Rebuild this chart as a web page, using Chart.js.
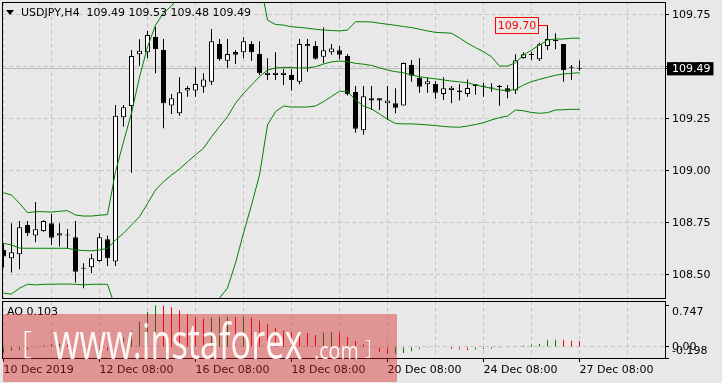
<!DOCTYPE html>
<html>
<head>
<meta charset="utf-8">
<script src="https://cdn.jsdelivr.net/npm/chart.js@4.4.1/dist/chart.umd.min.js"></script>
<style>
  html, body { margin: 0; padding: 0; background: #e8e8e8; }
  #wrap { position: relative; width: 722px; height: 383px; overflow: hidden; font-family: "DejaVu Sans", sans-serif; }
  canvas { position: absolute; left: 0; }
  #price { top: 0; }
  #ao { top: 300px; }
  .lbl { position: absolute; font-size: 11px; line-height: 13px; color: #000; white-space: pre; }
  #tri { position: absolute; left: 6px; top: 10px; width: 0; height: 0;
         border-left: 4.5px solid transparent; border-right: 4.5px solid transparent; border-top: 5px solid #000; }
  #wm { position: absolute; left: 3px; top: 314px; width: 394px; height: 68px; background: rgba(215, 30, 30, 0.42); }
  #wm span { position: absolute; color: rgba(255, 255, 255, 0.92); font-family: "Open Sans", sans-serif;
             font-weight: 400; line-height: 1; white-space: pre; transform-origin: left top; }
</style>
</head>
<body>
<div id="wrap">
  <canvas id="price" width="722" height="300"></canvas>
  <canvas id="ao" width="722" height="83"></canvas>
  <div id="tri"></div>
  <div id="hdr" class="lbl" style="left:21px; top:6px;"></div>
  <div id="aoLbl" class="lbl" style="left:7px; top:305px;"></div>
  <div id="wm">
    <span style="left:19px; top:12px; font-size:31px; font-weight:300;">[</span>
    <span style="left:50px; top:2px; font-size:49px; transform:scaleX(0.70);">www.instaforex</span>
    <span style="left:311px; top:24px; font-size:24px; transform:scaleX(0.82);">.com</span>
    <span style="left:362px; top:23px; font-size:21px; font-weight:300;">]</span>
  </div>
</div>
<script>
// USDJPY H4, one value per bar (bar 0 = 10 Dec 08:00)
const opens = [108.619,108.579,108.598,108.739,108.689,108.710,108.747,108.688,108.688,108.680,
  108.529,108.536,108.566,108.670,108.564,109.257,109.311,109.560,109.569,109.643,
  109.580,109.314,109.276,109.385,109.385,109.404,109.428,109.609,109.529,109.571,
  109.569,109.609,109.561,109.460,109.460,109.460,109.460,109.428,109.598,109.600,
  109.548,109.569,109.579,109.551,109.378,109.194,109.348,109.348,109.324,109.324,
  109.314,109.508,109.447,109.415,109.417,109.369,109.388,109.386,109.369,109.407,
  109.404,109.397,109.404,109.396,109.385,109.542,109.556,109.536,109.600,109.626,
  109.609,109.497,109.490];
const highs = [108.651,108.747,108.758,108.758,108.850,108.762,108.792,108.747,108.720,108.758,
  108.555,108.600,108.699,108.689,109.316,109.316,109.580,109.632,109.672,109.692,
  109.633,109.369,109.449,109.407,109.497,109.468,109.681,109.633,109.633,109.580,
  109.641,109.622,109.622,109.540,109.569,109.489,109.489,109.633,109.633,109.622,
  109.689,109.609,109.600,109.561,109.407,109.407,109.407,109.350,109.407,109.396,
  109.520,109.532,109.540,109.449,109.430,109.449,109.407,109.417,109.439,109.417,
  109.423,109.420,109.412,109.412,109.560,109.569,109.572,109.615,109.700,109.661,
  109.609,109.508,109.530];
const lows = [108.535,108.510,108.526,108.686,108.656,108.706,108.643,108.635,108.627,108.462,
  108.435,108.507,108.562,108.542,108.542,109.212,108.990,109.503,109.540,109.468,
  109.204,109.273,109.264,109.356,109.356,109.375,109.412,109.529,109.495,109.513,
  109.540,109.529,109.460,109.436,109.436,109.412,109.385,109.415,109.476,109.535,
  109.516,109.558,109.536,109.362,109.183,109.173,109.292,109.292,109.244,109.276,
  109.312,109.428,109.375,109.375,109.346,109.340,109.324,109.337,109.356,109.365,
  109.356,109.380,109.312,109.348,109.369,109.538,109.532,109.527,109.580,109.584,
  109.428,109.436,109.480];
const closes = [108.587,108.608,108.728,108.699,108.718,108.758,108.678,108.699,108.690,108.514,
  108.530,108.579,108.680,108.579,109.264,109.305,109.551,109.577,109.652,109.585,
  109.324,109.348,109.377,109.398,109.417,109.439,109.622,109.536,109.561,109.558,
  109.622,109.569,109.468,109.471,109.471,109.471,109.436,109.609,109.609,109.538,
  109.579,109.588,109.558,109.367,109.202,109.358,109.337,109.337,109.338,109.303,
  109.518,109.457,109.404,109.430,109.375,109.396,109.399,109.377,109.398,109.415,
  109.405,109.395,109.402,109.380,109.531,109.560,109.557,109.608,109.633,109.624,
  109.484,109.495,109.490];

// Bollinger bands
const bbUpper = [108.894,108.883,108.843,108.798,108.803,108.803,108.801,108.805,108.808,108.787,
  108.782,108.782,108.786,108.789,108.995,109.139,109.277,109.450,109.595,109.700,
  109.758,109.792,109.840,109.878,109.893,109.907,109.965,110.047,110.085,110.090,
  110.042,109.989,109.926,109.724,109.703,109.700,109.692,109.689,109.685,109.680,
  109.676,109.674,109.672,109.676,109.716,109.716,109.715,109.709,109.704,109.699,
  109.693,109.688,109.680,109.672,109.665,109.663,109.661,109.638,109.613,109.592,
  109.572,109.548,109.503,109.503,109.519,109.556,109.580,109.604,109.628,109.633,
  109.633,109.637,109.637];
const bbMiddle = [108.651,108.643,108.628,108.627,108.627,108.627,108.627,108.627,108.627,108.619,
  108.616,108.615,108.619,108.627,108.667,108.699,108.739,108.779,108.842,108.907,
  108.947,108.979,109.008,109.043,109.076,109.108,109.163,109.212,109.260,109.324,
  109.372,109.412,109.452,109.484,109.494,109.496,109.496,109.494,109.494,109.500,
  109.513,109.523,109.527,109.524,109.516,109.512,109.506,109.495,109.484,109.476,
  109.471,109.460,109.452,109.446,109.442,109.436,109.431,109.427,109.423,109.412,
  109.404,109.396,109.388,109.385,109.391,109.412,109.428,109.439,109.449,109.459,
  109.465,109.468,109.471];
const bbLower = [108.411,108.407,108.435,108.454,108.451,108.454,108.454,108.455,108.455,108.454,
  108.451,108.454,108.454,108.454,108.340,108.258,108.200,108.109,108.090,108.114,
  108.138,108.167,108.176,108.210,108.258,108.306,108.364,108.388,108.436,108.556,
  108.700,108.835,108.979,109.220,109.284,109.311,109.306,109.306,109.306,109.311,
  109.332,109.357,109.382,109.381,109.340,109.311,109.297,109.273,109.247,109.227,
  109.225,109.225,109.223,109.220,109.217,109.213,109.210,109.209,109.215,109.222,
  109.231,109.244,109.255,109.263,109.292,109.288,109.280,109.276,109.279,109.292,
  109.293,109.295,109.295];

// Awesome Oscillator
const ao = [-0.100,-0.070,-0.060,-0.040,-0.020,0.030,0.047,0.060,0.040,0.020,
  -0.005,-0.020,-0.040,-0.070,0.020,0.166,0.285,0.450,0.629,0.747,
  0.745,0.710,0.652,0.593,0.522,0.510,0.525,0.540,0.545,0.538,
  0.542,0.522,0.474,0.415,0.344,0.297,0.261,0.255,0.250,0.213,
  0.261,0.265,0.255,0.178,0.107,0.047,-0.020,-0.090,-0.125,-0.120,
  -0.107,-0.077,-0.036,-0.018,-0.005,-0.010,-0.036,-0.047,-0.059,-0.047,
  -0.036,-0.030,-0.018,-0.015,0.012,0.025,0.041,0.053,0.119,0.130,
  0.128,0.113,0.103];

// axes
const priceTicks = [109.75, 109.50, 109.25, 109.00, 108.75, 108.50];
const aoTicks = [0.747, 0, -0.198];
const dateLabels = ['10 Dec 2019', '12 Dec 08:00', '16 Dec 08:00', '18 Dec 08:00',
  '20 Dec 08:00', '24 Dec 08:00', '27 Dec 08:00'];
const barsPerLabel = 12;
const gridBars = [0, 6, 12, 18, 24, 30, 36, 42, 48, 54, 60, 66, 72, 78];

const xMin = -0.1875, xMax = 82.6875;
const priceMin = 108.388, priceMax = 109.811;
const aoMin = -0.198, aoMax = 0.824;

const FONT = 'DejaVu Sans';
const gridColor = '#c6c6c6';
const last = closes.length - 1;
const lastClose = closes[last];

Chart.defaults.font.family = FONT;
Chart.defaults.font.size = 11;
Chart.defaults.color = '#000';

// header texts
document.getElementById('hdr').textContent = 'USDJPY,H4  ' +
  [opens[last], highs[last], lows[last], closes[last]].map(v => v.toFixed(2)).join(' ');
document.getElementById('aoLbl').textContent = 'AO ' + ao[last].toFixed(3);

const idx = opens.map((_, i) => i);
const asPoints = arr => arr.map((v, i) => ({ x: i, y: v }));

// keep the plot area exactly where the layout padding puts it
function fixSize(prop, size) {
  return s => {
    s[prop] = size;
    s.paddingTop = 0; s.paddingBottom = 0; s.paddingLeft = 0; s.paddingRight = 0;
  };
}

// black frame round the plot area
const framePlugin = {
  id: 'frame',
  afterDraw(chart) {
    const { ctx, chartArea: a } = chart;
    ctx.save();
    ctx.strokeStyle = '#000';
    ctx.lineWidth = 1;
    ctx.strokeRect(Math.round(a.left) + 0.5, Math.round(a.top) + 0.5,
      Math.round(a.right - a.left), Math.round(a.bottom - a.top));
    ctx.restore();
  }
};

// red label on the highest high
const peakPlugin = {
  id: 'peak',
  afterDatasetsDraw(chart) {
    const i = highs.indexOf(Math.max(...highs));
    const x = Math.round(chart.scales.x.getPixelForValue(i));
    const y = Math.round(chart.scales.y.getPixelForValue(highs[i])) + 0.5;
    const ctx = chart.ctx;
    const text = highs[i].toFixed(2);
    ctx.save();
    ctx.font = '11px "' + FONT + '"';
    const w = Math.ceil(ctx.measureText(text).width) + 4;
    const right = x - 10;
    ctx.strokeStyle = '#ff0000';
    ctx.lineWidth = 1;
    ctx.beginPath();
    ctx.moveTo(right, y);
    ctx.lineTo(x, y);
    ctx.stroke();
    ctx.fillStyle = '#e8e8e8';
    ctx.fillRect(right - w, y - 8, w, 16);
    ctx.strokeRect(right - w + 0.5, y - 8, w, 16);
    ctx.fillStyle = '#ff0000';
    ctx.textAlign = 'center';
    ctx.textBaseline = 'middle';
    ctx.fillText(text, right - w / 2 + 0.5, y + 0.5);
    ctx.restore();
  }
};

const bandStyle = { type: 'line', borderColor: '#008000', borderWidth: 1, pointRadius: 0, order: 0 };

new Chart(document.getElementById('price'), {
  type: 'bar',
  data: {
    datasets: [
      { ...bandStyle, data: asPoints(bbUpper) },
      { ...bandStyle, data: asPoints(bbMiddle) },
      { ...bandStyle, data: asPoints(bbLower) },
      {
        // candle bodies
        data: idx.map(i => ({ x: i, y: [Math.min(opens[i], closes[i]), Math.max(opens[i], closes[i])] })),
        backgroundColor: idx.map(i => closes[i] >= opens[i] ? '#ffffff' : '#000000'),
        borderColor: '#000',
        borderWidth: 1,
        borderSkipped: false,
        barThickness: 5,
        minBarLength: 1,
        inflateAmount: 0,
        grouped: false,
        order: 1
      },
      {
        // wicks
        data: idx.map(i => ({ x: i, y: [lows[i], highs[i]] })),
        backgroundColor: '#000',
        borderWidth: 0,
        barThickness: 1,
        inflateAmount: 0,
        grouped: false,
        order: 2
      }
    ]
  },
  options: {
    responsive: false,
    animation: false,
    devicePixelRatio: 1,
    layout: { padding: { left: 2, top: 2, right: 0, bottom: 0 } },
    plugins: { legend: { display: false }, tooltip: { enabled: false } },
    scales: {
      x: {
        type: 'linear',
        offset: false,
        min: xMin,
        max: xMax,
        afterBuildTicks: s => { s.ticks = gridBars.map(v => ({ value: v })); },
        afterFit: fixSize('height', 2),
        ticks: { display: false, autoSkip: false },
        grid: { color: gridColor, drawTicks: false, offset: false },
        border: { display: false, dash: [4, 3] }
      },
      y: {
        position: 'right',
        min: priceMin,
        max: priceMax,
        afterBuildTicks: s => { s.ticks = priceTicks.concat([lastClose]).map(v => ({ value: v })); },
        afterFit: fixSize('width', 57),
        ticks: {
          autoSkip: false,
          padding: 3,
          callback: v => v.toFixed(2),
          color: ctx => ctx.tick.value === lastClose ? '#ffffff' : '#000000',
          showLabelBackdrop: ctx => ctx.tick.value === lastClose,
          backdropColor: '#000',
          backdropPadding: { left: 5, right: 3, top: 0, bottom: 0 }
        },
        grid: {
          color: ctx => ctx.tick && ctx.tick.value === lastClose ? '#bcbcbc' : gridColor,
          tickLength: 4,
          tickColor: '#000',
          tickBorderDash: []
        },
        border: { display: false, dash: ctx => ctx.tick && ctx.tick.value === lastClose ? [] : [4, 3] }
      }
    }
  },
  plugins: [framePlugin, peakPlugin]
});

const dateAt = v => (v % barsPerLabel === 0 && v / barsPerLabel < dateLabels.length) ? dateLabels[v / barsPerLabel] : '';

new Chart(document.getElementById('ao'), {
  type: 'bar',
  data: {
    datasets: [{
      data: asPoints(ao),
      backgroundColor: ao.map((v, i) => i > 0 && v < ao[i - 1] ? '#ff0000' : '#008000'),
      borderWidth: 0,
      barThickness: 1,
      inflateAmount: 0
    }]
  },
  options: {
    responsive: false,
    animation: false,
    devicePixelRatio: 1,
    layout: { padding: { left: 2, top: 1, right: 0, bottom: 0 } },
    plugins: { legend: { display: false }, tooltip: { enabled: false } },
    scales: {
      x: {
        type: 'linear',
        offset: false,
        min: xMin,
        max: xMax,
        afterBuildTicks: s => { s.ticks = gridBars.map(v => ({ value: v })); },
        afterFit: fixSize('height', 25),
        ticks: { autoSkip: false, maxRotation: 0, align: 'start', padding: 2, callback: v => dateAt(v) },
        grid: {
          color: gridColor,
          offset: false,
          tickLength: 4,
          tickColor: ctx => ctx.tick && dateAt(ctx.tick.value) ? '#000' : 'rgba(0,0,0,0)',
          tickBorderDash: []
        },
        border: { display: false, dash: [4, 3] }
      },
      y: {
        position: 'right',
        min: aoMin,
        max: aoMax,
        afterBuildTicks: s => { s.ticks = aoTicks.map(v => ({ value: v })); },
        afterFit: fixSize('width', 57),
        ticks: {
          autoSkip: false,
          padding: 3,
          callback: v => v === 0 ? '0.00' : (v > 0 ? ['', v.toFixed(3)] : [v.toFixed(3), ''])
        },
        grid: {
          color: ctx => ctx.tick && ctx.tick.value === 0 ? gridColor : 'rgba(0,0,0,0)',
          tickLength: 4,
          tickColor: '#000',
          tickBorderDash: []
        },
        border: { display: false, dash: [4, 3] }
      }
    }
  },
  plugins: [framePlugin]
});
</script>
</body>
</html>
